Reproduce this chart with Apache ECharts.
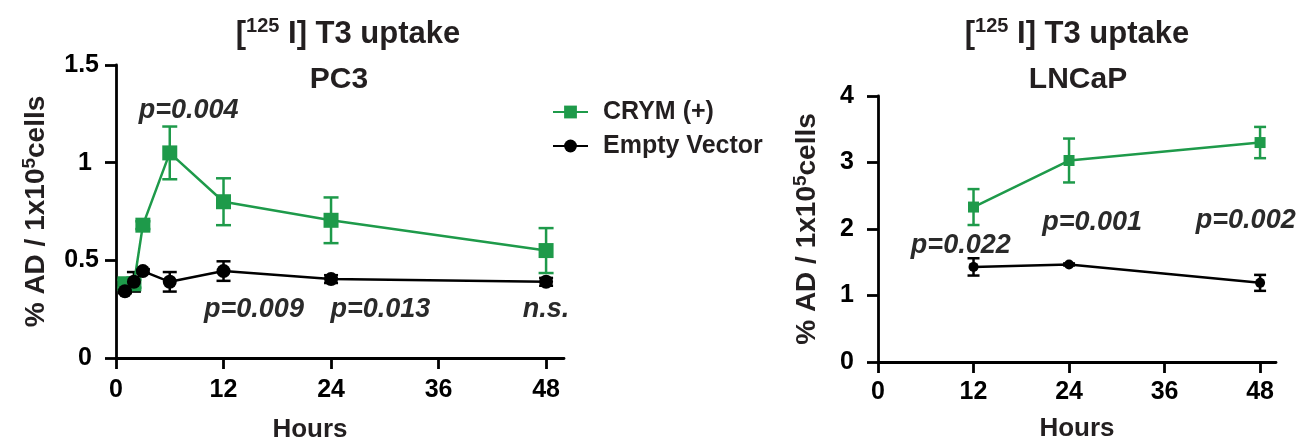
<!DOCTYPE html>
<html><head><meta charset="utf-8">
<script src="https://cdn.jsdelivr.net/npm/echarts@6/dist/echarts.min.js"></script>
<style>html,body{margin:0;padding:0;background:#fff}#c{width:1298px;height:448px}</style>
</head><body><div id="c"></div>
<script>
// ---- data ----
const xTicks = [0, 12, 24, 36, 48];
const pc3Hours = [1, 2, 3, 6, 12, 24, 48];
const pc3Crym = [0.38, 0.38, 0.68, 1.05, 0.80, 0.705, 0.55];
const pc3CrymErr = [0.02, 0.02, 0.02, 0.135, 0.12, 0.117, 0.115];
const pc3Empty = [0.342, 0.39, 0.445, 0.39, 0.445, 0.404, 0.39];
const pc3EmptyErr = [0.01, 0.05, 0.01, 0.05, 0.05, 0.02, 0.02];
const lncapHours = [12, 24, 48];
const lncapCrym = [2.33, 3.03, 3.30];
const lncapCrymErr = [0.27, 0.33, 0.235];
const lncapEmpty = [1.43, 1.467, 1.19];
const lncapEmptyErr = [0.13, 0.015, 0.12];
const pc3PText = ['p=0.004', 'p=0.009', 'p=0.013', 'n.s.'];
const pc3PAt = [[8.1, 1.266], [15.4, 0.246], [29.5, 0.246], [48, 0.246]];
const lncapPText = ['p=0.022', 'p=0.001', 'p=0.002'];
const lncapPAt = [[10.4, 1.757], [26.9, 2.093], [46.2, 2.13]];
const seriesNames = ['CRYM (+)', 'Empty Vector'];

// ---- styles ----
const FONT = '"Liberation Sans", Arial, Helvetica, sans-serif';
const GREEN = '#1e9a4a';
const BLACK = '#000000';
const TXT = '#231f20';

function errorSeries(name, hours, vals, errs, color, capHalf, idx) {
  return {
    type: 'custom', name: name, xAxisIndex: idx, yAxisIndex: idx, silent: true, z: 1,
    data: hours.map((h, i) => [h, vals[i] - errs[i], vals[i] + errs[i]]),
    encode: { x: 0, y: [1, 2] },
    renderItem: function (params, api) {
      const x = api.value(0);
      const lo = api.coord([x, api.value(1)]);
      const hi = api.coord([x, api.value(2)]);
      const st = { stroke: color, lineWidth: 2.5 };
      return { type: 'group', children: [
        { type: 'line', shape: { x1: lo[0], y1: lo[1], x2: hi[0], y2: hi[1] }, style: st },
        { type: 'line', shape: { x1: lo[0] - capHalf, y1: lo[1], x2: lo[0] + capHalf, y2: lo[1] }, style: st },
        { type: 'line', shape: { x1: hi[0] - capHalf, y1: hi[1], x2: hi[0] + capHalf, y2: hi[1] }, style: st }
      ]};
    }
  };
}
function lineSeries(name, hours, vals, color, symbol, size, idx, z) {
  return {
    type: 'line', name: name, xAxisIndex: idx, yAxisIndex: idx, z: z,
    data: hours.map((h, i) => [h, vals[i]]),
    symbol: symbol, symbolSize: size,
    itemStyle: { color: color, opacity: 1 },
    lineStyle: { color: color, width: 2.5 },
    emphasis: { disabled: true }, animation: false
  };
}
function pSeries(texts, at, idx) {
  return {
    type: 'scatter', xAxisIndex: idx, yAxisIndex: idx, silent: true, z: 5,
    symbol: 'circle', symbolSize: 0, itemStyle: { color: '#222222' },
    emphasis: { disabled: true },
    data: texts.map((t, i) => ({ value: at[i], name: t })),
    label: { show: true, position: 'inside', formatter: p => p.name, opacity: 1,
      fontFamily: FONT, fontSize: 27, fontWeight: 'bold', fontStyle: 'italic', color: '#2a2a2a' }
  };
}
const axLine = { show: true, onZero: false, lineStyle: { color: BLACK, width: 2.8 } };
const axTick = { show: true, inside: false, length: 11, lineStyle: { color: BLACK, width: 2.8 } };
const lblBase = { color: BLACK, fontSize: 25, fontWeight: 'bold', fontFamily: FONT };
function yName() {
  return {
    name: '{a|% AD / 1x10}{s|5}{a|cells}', nameLocation: 'middle', nameRotate: 90,
    nameTextStyle: { rich: {
      a: { fontSize: 28, fontWeight: 'bold', fontFamily: FONT, color: TXT, lineHeight: 32 },
      s: { fontSize: 19, fontWeight: 'bold', fontFamily: FONT, color: TXT, lineHeight: 19, verticalAlign: 'top' }
    } }
  };
}
function titleRich(left) {
  return {
    left: left, top: 16, textAlign: 'center', padding: 0,
    text: '{b|[}{s|125}{b| I] T3 uptake}',
    textStyle: { rich: {
      b: { fontSize: 31, fontWeight: 'bold', fontFamily: FONT, color: TXT, lineHeight: 36 },
      s: { fontSize: 20, fontWeight: 'bold', fontFamily: FONT, color: TXT, lineHeight: 22, verticalAlign: 'top' }
    } }
  };
}
function subTitle(text, left) {
  return { left: left, top: 63, textAlign: 'center', padding: 0, text: text,
    textStyle: { fontSize: 30, fontWeight: 'bold', fontFamily: FONT, color: TXT, lineHeight: 34 } };
}

const chart = echarts.init(document.getElementById('c'), null, { renderer: 'canvas' });
chart.setOption({
  animation: false,
  backgroundColor: '#ffffff',
  textStyle: { fontFamily: FONT },
  title: [titleRich(348), subTitle('PC3', 339), titleRich(1077), subTitle('LNCaP', 1078)],
  legend: {
    data: seriesNames, orient: 'vertical', left: 547, top: 92,
    itemWidth: 35, itemHeight: 16, itemGap: 4, selectedMode: false,
    textStyle: { fontSize: 25, fontWeight: 'bold', fontFamily: FONT, color: TXT, lineHeight: 30, padding: [0, 0, 0, 10] }
  },
  grid: [
    { left: 116, top: 65, width: 448, height: 299 },
    { left: 878, top: 96, width: 398, height: 266 }
  ],
  xAxis: [
    { type: 'value', gridIndex: 0, min: 0, max: 50, interval: 12,
      axisLine: axLine, axisTick: Object.assign({ customValues: xTicks }, axTick), splitLine: { show: false },
      axisLabel: Object.assign({ customValues: xTicks, margin: 20 }, lblBase),
      name: 'Hours', nameLocation: 'middle', nameGap: 59,
      nameTextStyle: { fontSize: 26, fontWeight: 'bold', fontFamily: FONT, color: TXT, padding: [0, 60, 0, 0] } },
    { type: 'value', gridIndex: 1, min: 0, max: 50, interval: 12,
      axisLine: axLine, axisTick: Object.assign({ customValues: xTicks }, axTick), splitLine: { show: false },
      axisLabel: Object.assign({ customValues: xTicks, margin: 18 }, lblBase),
      name: 'Hours', nameLocation: 'middle', nameGap: 54,
      nameTextStyle: { fontSize: 26, fontWeight: 'bold', fontFamily: FONT, color: TXT } }
  ],
  yAxis: [
    Object.assign({ type: 'value', gridIndex: 0, min: 0, max: 1.5, interval: 0.5,
      axisLine: axLine, axisTick: axTick, splitLine: { show: false },
      axisLabel: Object.assign({ margin: 17,
        formatter: v => Number.isInteger(v) ? '{i|' + v + '}' : String(v),
        rich: { i: Object.assign({ padding: [0, 7, 0, 0] }, lblBase) } }, lblBase),
      nameGap: 64 }, yName()),
    Object.assign({ type: 'value', gridIndex: 1, min: 0, max: 4, interval: 1,
      axisLine: axLine, axisTick: axTick, splitLine: { show: false },
      axisLabel: Object.assign({ margin: 24 }, lblBase),
      nameGap: 55 }, yName())
  ],
  series: [
    lineSeries(seriesNames[0], pc3Hours, pc3Crym, GREEN, 'rect', 15, 0, 3),
    lineSeries(seriesNames[1], pc3Hours, pc3Empty, BLACK, 'circle', 14, 0, 4),
    lineSeries(seriesNames[0], lncapHours, lncapCrym, GREEN, 'rect', 11, 1, 3),
    lineSeries(seriesNames[1], lncapHours, lncapEmpty, BLACK, 'circle', 10, 1, 4),
    errorSeries('errA', pc3Hours, pc3Crym, pc3CrymErr, GREEN, 7.5, 0),
    errorSeries('errB', pc3Hours, pc3Empty, pc3EmptyErr, BLACK, 7, 0),
    errorSeries('errC', lncapHours, lncapCrym, lncapCrymErr, GREEN, 6, 1),
    errorSeries('errD', lncapHours, lncapEmpty, lncapEmptyErr, BLACK, 6, 1),
    pSeries(pc3PText, pc3PAt, 0),
    pSeries(lncapPText, lncapPAt, 1)
  ]
});
</script></body></html>
